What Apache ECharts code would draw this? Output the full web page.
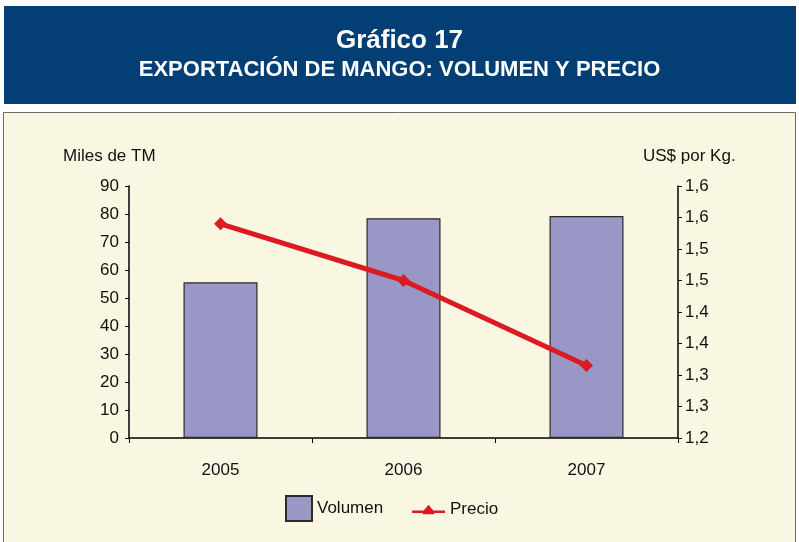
<!DOCTYPE html>
<html>
<head>
<meta charset="utf-8">
<script src="https://cdn.jsdelivr.net/npm/echarts@6/dist/echarts.min.js"></script>
<style>
  html, body { margin: 0; padding: 0; background: #ffffff; }
  #chart { width: 799px; height: 542px; }
</style>
</head>
<body>
<div id="chart"></div>
<script>
// datos del gráfico
const years = ['2005', '2006', '2007'];
const volumen = [55.6, 78.5, 79.3];   // miles de TM
const precio = [1.54, 1.45, 1.315];  // US$ por Kg.

const fontFamily = '"Liberation Sans", Arial, sans-serif';

// etiquetas del eje derecho con un decimal y coma
function fmtPrecio(v) {
  const r = Math.round(v * 10 + 1e-9) / 10;
  return r.toFixed(1).replace('.', ',');
}

const chart = echarts.init(document.getElementById('chart'), null, { renderer: 'canvas' });

const option = {
  backgroundColor: '#ffffff',
  animation: false,
  textStyle: { fontFamily: fontFamily },
  graphic: [
    // franja del título
    { type: 'rect', z: -10, shape: { x: 4, y: 6, width: 792, height: 98 }, style: { fill: '#033f74' } },
    // panel del gráfico
    { type: 'rect', z: -10, shape: { x: 3.5, y: 112.5, width: 792, height: 440 }, style: { fill: '#f9f7e1', stroke: '#6b6b6b', lineWidth: 1 } },
    { type: 'text', left: 63, top: 148, style: { text: 'Miles de TM', fill: '#111', font: '17px ' + fontFamily } },
    { type: 'text', left: 643, top: 148, style: { text: 'US$ por Kg.', fill: '#111', font: '17px ' + fontFamily } }
  ],
  title: {
    text: 'Gráfico 17',
    subtext: 'EXPORTACIÓN DE MANGO: VOLUMEN Y PRECIO',
    left: 'center',
    top: 23,
    itemGap: 5,
    textStyle: { color: '#ffffff', fontSize: 26, fontWeight: 'bold', fontFamily: fontFamily },
    subtextStyle: { color: '#ffffff', fontSize: 22, fontWeight: 'bold', fontFamily: fontFamily }
  },
  legend: [
    {
      data: [{ name: 'Volumen', icon: 'rect' }],
      left: 280, top: 490,
      itemWidth: 26, itemHeight: 25,
      textStyle: { fontSize: 17, color: '#111' }
    },
    {
      data: [{
        name: 'Precio',
        icon: 'path://M0,5 L12,5 L17,-1 L22,5 L34,5 L34,7.5 L23,7.5 L23,9 L11,9 L11,7.5 L0,7.5 Z'
      }],
      left: 407, top: 496,
      itemWidth: 33, itemHeight: 10,
      textStyle: { fontSize: 17, color: '#111' }
    }
  ],
  grid: { left: 129, right: 121, top: 186, bottom: 104 },
  xAxis: {
    type: 'category',
    data: years,
    axisLine: { lineStyle: { color: '#000', width: 1.5 } },
    axisTick: { show: true, length: 5, inside: false, lineStyle: { color: '#000' } },
    axisLabel: { color: '#111', fontSize: 17, margin: 24 }
  },
  yAxis: [
    {
      type: 'value',
      min: 0, max: 90, interval: 10,
      axisLine: { show: true, lineStyle: { color: '#000', width: 1.5 } },
      axisTick: { show: true, length: 4, lineStyle: { color: '#000' } },
      axisLabel: { color: '#111', fontSize: 17, margin: 10 },
      splitLine: { show: false }
    },
    {
      type: 'value',
      position: 'right',
      min: 1.2, max: 1.6, interval: 0.05,
      axisLine: { show: true, lineStyle: { color: '#000', width: 1.5 } },
      axisTick: { show: true, length: 4, lineStyle: { color: '#000' } },
      axisLabel: { color: '#111', fontSize: 17, margin: 7, formatter: fmtPrecio },
      splitLine: { show: false }
    }
  ],
  series: [
    {
      name: 'Volumen',
      type: 'bar',
      data: volumen,
      yAxisIndex: 0,
      barWidth: 74,
      itemStyle: { color: '#9897c6', borderColor: '#2a2a2a', borderWidth: 1.2 }
    },
    {
      name: 'Precio',
      type: 'line',
      data: precio,
      yAxisIndex: 1,
      symbol: 'diamond',
      symbolSize: 13,
      lineStyle: { color: '#dc1a22', width: 5 },
      itemStyle: { color: '#dc1a22' },
      z: 5
    }
  ]
};

chart.setOption(option);
</script>
</body>
</html>
